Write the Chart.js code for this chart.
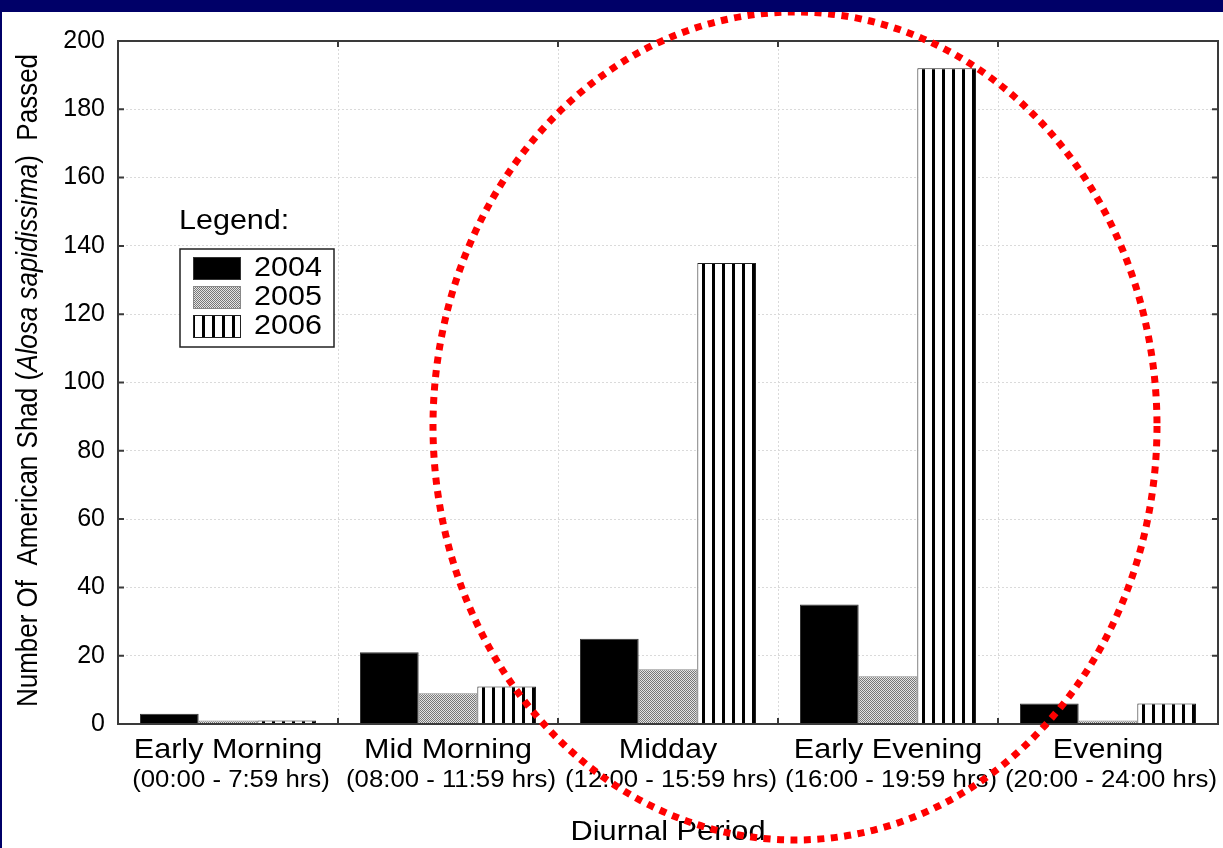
<!DOCTYPE html>
<html>
<head>
<meta charset="utf-8">
<title>American Shad passage by diurnal period</title>
<script src="https://cdn.jsdelivr.net/npm/chart.js@4.4.0/dist/chart.umd.min.js"></script>
<style>
    html, body { margin: 0; padding: 0; width: 1223px; height: 848px; overflow: hidden; background: #000068; }
    #wrap { position: absolute; left: 2px; top: 12px; width: 1221px; height: 836px; background: #fff; }
    canvas { display: block; }
</style>
</head>
<body>
<div id="wrap"><canvas id="shadChart" width="1221" height="836"></canvas></div>
<script>
// Data
const periods = ['Early Morning', 'Mid Morning', 'Midday', 'Early Evening', 'Evening'];
const periodHours = ['(00:00 - 7:59 hrs)', '(08:00 - 11:59 hrs)', '(12:00 - 15:59 hrs)', '(16:00 - 19:59 hrs)', '(20:00 - 24:00 hrs)'];
const years = ['2004', '2005', '2006'];
const counts2004 = [3, 21, 25, 35, 6];
const counts2005 = [1, 9, 16, 14, 1];
const counts2006 = [1, 11, 135, 192, 6];
const yTicks = [0, 20, 40, 60, 80, 100, 120, 140, 160, 180, 200];

const FONT = '"Liberation Sans", Arial, Helvetica, sans-serif';

// fill patterns for 2005 (fine checker) and 2006 (vertical bars)
function checkerPattern(ctx) {
    const c = document.createElement('canvas');
    c.width = 2; c.height = 2;
    const g = c.getContext('2d');
    g.fillStyle = '#e4e4e4';
    g.fillRect(0, 0, 2, 2);
    g.fillStyle = '#777';
    g.fillRect(0, 0, 1, 1);
    g.fillRect(1, 1, 1, 1);
    return ctx.createPattern(c, 'repeat');
}

function stripePattern(ctx) {
    const c = document.createElement('canvas');
    c.width = 10; c.height = 4;
    const g = c.getContext('2d');
    g.fillStyle = '#fff';
    g.fillRect(0, 0, 10, 4);
    g.fillStyle = '#000';
    g.fillRect(0, 0, 3, 4);
    return ctx.createPattern(c, 'repeat');
}

// text helper, the figure's lettering is a bit wider than Arial
function wideText(ctx, text, x, y, size, sx, align) {
    ctx.save();
    ctx.translate(x, y);
    ctx.scale(sx, 1);
    ctx.font = size + 'px ' + FONT;
    ctx.textAlign = align;
    ctx.textBaseline = 'middle';
    ctx.fillStyle = '#000';
    ctx.fillText(text, 0, 0);
    ctx.restore();
}

// frame around the plot plus the inward tick marks
const framePlugin = {
    id: 'frame',
    afterDraw(chart) {
        const { ctx, chartArea: a, scales: { x, y } } = chart;
        ctx.save();
        ctx.strokeStyle = '#3a3a3a';
        ctx.lineWidth = 2;
        ctx.strokeRect(a.left, a.top, a.right - a.left, a.bottom - a.top);
        ctx.beginPath();
        y.ticks.forEach(t => {
            const py = y.getPixelForValue(t.value);
            ctx.moveTo(a.left, py); ctx.lineTo(a.left + 6, py);
            ctx.moveTo(a.right - 6, py); ctx.lineTo(a.right, py);
        });
        for (let i = 1; i < periods.length; i++) {
            const px = (x.getPixelForValue(i - 1) + x.getPixelForValue(i)) / 2;
            ctx.moveTo(px, a.top); ctx.lineTo(px, a.top + 6);
            ctx.moveTo(px, a.bottom - 6); ctx.lineTo(px, a.bottom);
        }
        ctx.stroke();
        ctx.restore();
    }
};

// two-line category labels, x title and the rotated y title (with italic species name)
const labelsPlugin = {
    id: 'labels',
    afterDraw(chart) {
        const { ctx, chartArea: a, scales: { x } } = chart;
        periods.forEach((name, i) => {
            const px = x.getPixelForValue(i);
            wideText(ctx, name, px, a.bottom + 26, 28, 1.09, 'center');
            wideText(ctx, periodHours[i], px + 3, a.bottom + 57, 23, 1.12, 'center');
        });
        wideText(ctx, 'Diurnal Period', (a.left + a.right) / 2, a.bottom + 108, 28, 1.1, 'center');

        const parts = [
            ['Number Of  American Shad (', ''],
            ['Alosa sapidissima', 'italic '],
            [')  Passed', '']
        ];
        ctx.save();
        ctx.translate(27, (a.top + a.bottom) / 2 - 2);
        ctx.rotate(-Math.PI / 2);
        ctx.scale(1, 1.15);
        ctx.textBaseline = 'middle';
        ctx.textAlign = 'left';
        ctx.fillStyle = '#000';
        let total = 0;
        parts.forEach(p => { ctx.font = p[1] + '26px ' + FONT; total += ctx.measureText(p[0]).width; });
        let cx = -total / 2;
        parts.forEach(p => {
            ctx.font = p[1] + '26px ' + FONT;
            ctx.fillText(p[0], cx, 0);
            cx += ctx.measureText(p[0]).width;
        });
        ctx.restore();
    }
};

// boxed legend inside the plot
const legendPlugin = {
    id: 'boxLegend',
    afterDraw(chart) {
        const ctx = chart.ctx;
        const bx = 178, by = 237, bw = 154, bh = 98;
        wideText(ctx, 'Legend:', 177, 210, 27, 1.13, 'left');
        ctx.save();
        ctx.fillStyle = '#fff';
        ctx.fillRect(bx, by, bw, bh);
        ctx.strokeStyle = '#222';
        ctx.lineWidth = 1.5;
        ctx.strokeRect(bx, by, bw, bh);
        chart.data.datasets.forEach((ds, i) => {
            const cy = by + 19 + i * 29;
            ctx.fillStyle = ds.backgroundColor;
            ctx.fillRect(bx + 13, cy - 11, 48, 23);
            ctx.strokeStyle = ds.borderColor;
            ctx.lineWidth = 1;
            ctx.strokeRect(bx + 13.5, cy - 10.5, 47, 22);
            wideText(ctx, ds.label, bx + 74, cy + 1, 27, 1.13, 'left');
        });
        ctx.restore();
    }
};

// red dotted ellipse drawn over the figure
const ellipsePlugin = {
    id: 'ellipse',
    afterDraw(chart) {
        const ctx = chart.ctx;
        ctx.save();
        ctx.strokeStyle = '#ff0000';
        ctx.lineWidth = 7;
        ctx.setLineDash([7, 6.5]);
        ctx.beginPath();
        ctx.ellipse(793, 414, 362, 414, 0, 0, Math.PI * 2);
        ctx.stroke();
        ctx.restore();
    }
};

const canvas = document.getElementById('shadChart');
const ctx = canvas.getContext('2d');

new Chart(ctx, {
    type: 'bar',
    data: {
        labels: periods,
        datasets: [
            { label: years[0], data: counts2004, backgroundColor: '#000', borderColor: '#333', borderWidth: 1 },
            { label: years[1], data: counts2005, backgroundColor: checkerPattern(ctx), borderColor: '#888', borderWidth: 1 },
            { label: years[2], data: counts2006, backgroundColor: stripePattern(ctx), borderColor: '#222', borderWidth: 1 }
        ]
    },
    options: {
        responsive: false,
        devicePixelRatio: 1,
        animation: false,
        layout: { padding: { top: 29, right: 5, left: 0, bottom: 0 } },
        datasets: { bar: { categoryPercentage: 0.8, barPercentage: 1.0 } },
        plugins: {
            legend: { display: false },
            tooltip: { enabled: false }
        },
        scales: {
            x: {
                grid: { offset: true, color: '#dadada', lineWidth: 1, drawTicks: false },
                border: { display: false, dash: [2, 2] },
                ticks: { display: false },
                afterFit: s => { s.height = 124; }
            },
            y: {
                min: 0,
                max: 200,
                afterBuildTicks: s => { s.ticks = yTicks.map(v => ({ value: v })); },
                grid: { color: '#dadada', lineWidth: 1, drawTicks: false },
                border: { display: false, dash: [2, 2] },
                ticks: { color: '#000', padding: 13, font: { family: FONT, size: 25 } },
                afterFit: s => { s.width = 116; }
            }
        }
    },
    plugins: [framePlugin, labelsPlugin, legendPlugin, ellipsePlugin]
});
</script>
</body>
</html>
